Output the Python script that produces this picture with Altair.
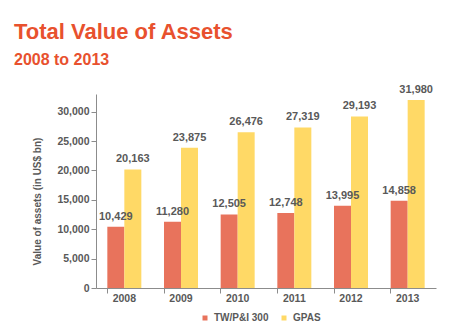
import altair as alt
import pandas as pd

years = ["2008", "2009", "2010", "2011", "2012", "2013"]
tw_pi = [10429, 11280, 12505, 12748, 13995, 14858]
gpas = [20163, 23875, 26476, 27319, 29193, 31980]
series = ["TW/P&I 300", "GPAS"]
colors = ["#E8735C", "#FFD966"]

rows = []
for y, a, b in zip(years, tw_pi, gpas):
    rows.append({"year": y, "series": series[0], "value": a})
    rows.append({"year": y, "series": series[1], "value": b})
df = pd.DataFrame(rows)

FONT = "Liberation Sans"
GRAY = "#595959"

x = alt.X("year:N", title=None, sort=years,
          scale=alt.Scale(paddingInner=0.4, paddingOuter=0.2),
          axis=alt.Axis(labelAngle=0, bandPosition=0, labelFont=FONT, labelFontSize=10.5,
                        labelFontWeight="bold", labelColor=GRAY, tickSize=5,
                        labelPadding=0, domainColor="#8C8C8C", tickColor="#8C8C8C"))
y = alt.Y("value:Q", title="Value of assets (in US$ bn)",
          scale=alt.Scale(domain=[0, 33000], nice=False),
          axis=alt.Axis(values=[0, 5000, 10000, 15000, 20000, 25000, 30000],
                        labelExpr="format(datum.value, ',.0f')",
                        grid=False, labelFont=FONT, labelFontSize=10.5, labelFontWeight="bold",
                        labelColor=GRAY, tickSize=5, labelPadding=2,
                        domainColor="#8C8C8C", tickColor="#8C8C8C",
                        titleFont=FONT, titleFontSize=10, titleFontWeight="bold",
                        titleColor=GRAY, titleAngle=-90, titleX=-59, titleY=107,
                        titleAlign="center", titleBaseline="middle"))
xo = alt.XOffset("series:N", sort=series)
color = alt.Color("series:N", sort=series,
                  scale=alt.Scale(domain=series, range=colors),
                  legend=alt.Legend(title=None, orient="none", direction="horizontal",
                                    legendX=104, legendY=219, symbolType="square",
                                    symbolSize=25, symbolStrokeWidth=0,
                                    labelFont=FONT, labelFontSize=10, labelFontWeight="bold",
                                    labelColor=GRAY, columnPadding=10, labelOffset=4))

base = alt.Chart(df)
bars = base.mark_bar().encode(x=x, y=y, xOffset=xo, color=color)
labels = base.mark_text(dy=-5, baseline="bottom", font=FONT, fontSize=11,
                        fontWeight="bold", color=GRAY).encode(
    x=x, y=y, xOffset=xo, text=alt.Text("value:Q", format=","))

chart = (bars + labels).properties(
    width=340, height=194,
    autosize=alt.AutoSizeParams(type="none"),
    padding={"left": 96, "top": 94, "right": 21, "bottom": 44},
    title=alt.TitleParams(text="Total Value of Assets", subtitle="2008 to 2013",
                          anchor="start", frame="group", dx=-82, offset=15,
                          font=FONT, fontSize=22, fontWeight="bold", color="#E8512E",
                          subtitleFont=FONT, subtitleFontSize=16, subtitleFontWeight="bold",
                          subtitleColor="#E8512E", subtitlePadding=8),
).configure_view(stroke=None)

chart.save("out.html", embed_options={"renderer": "svg", "actions": False})
